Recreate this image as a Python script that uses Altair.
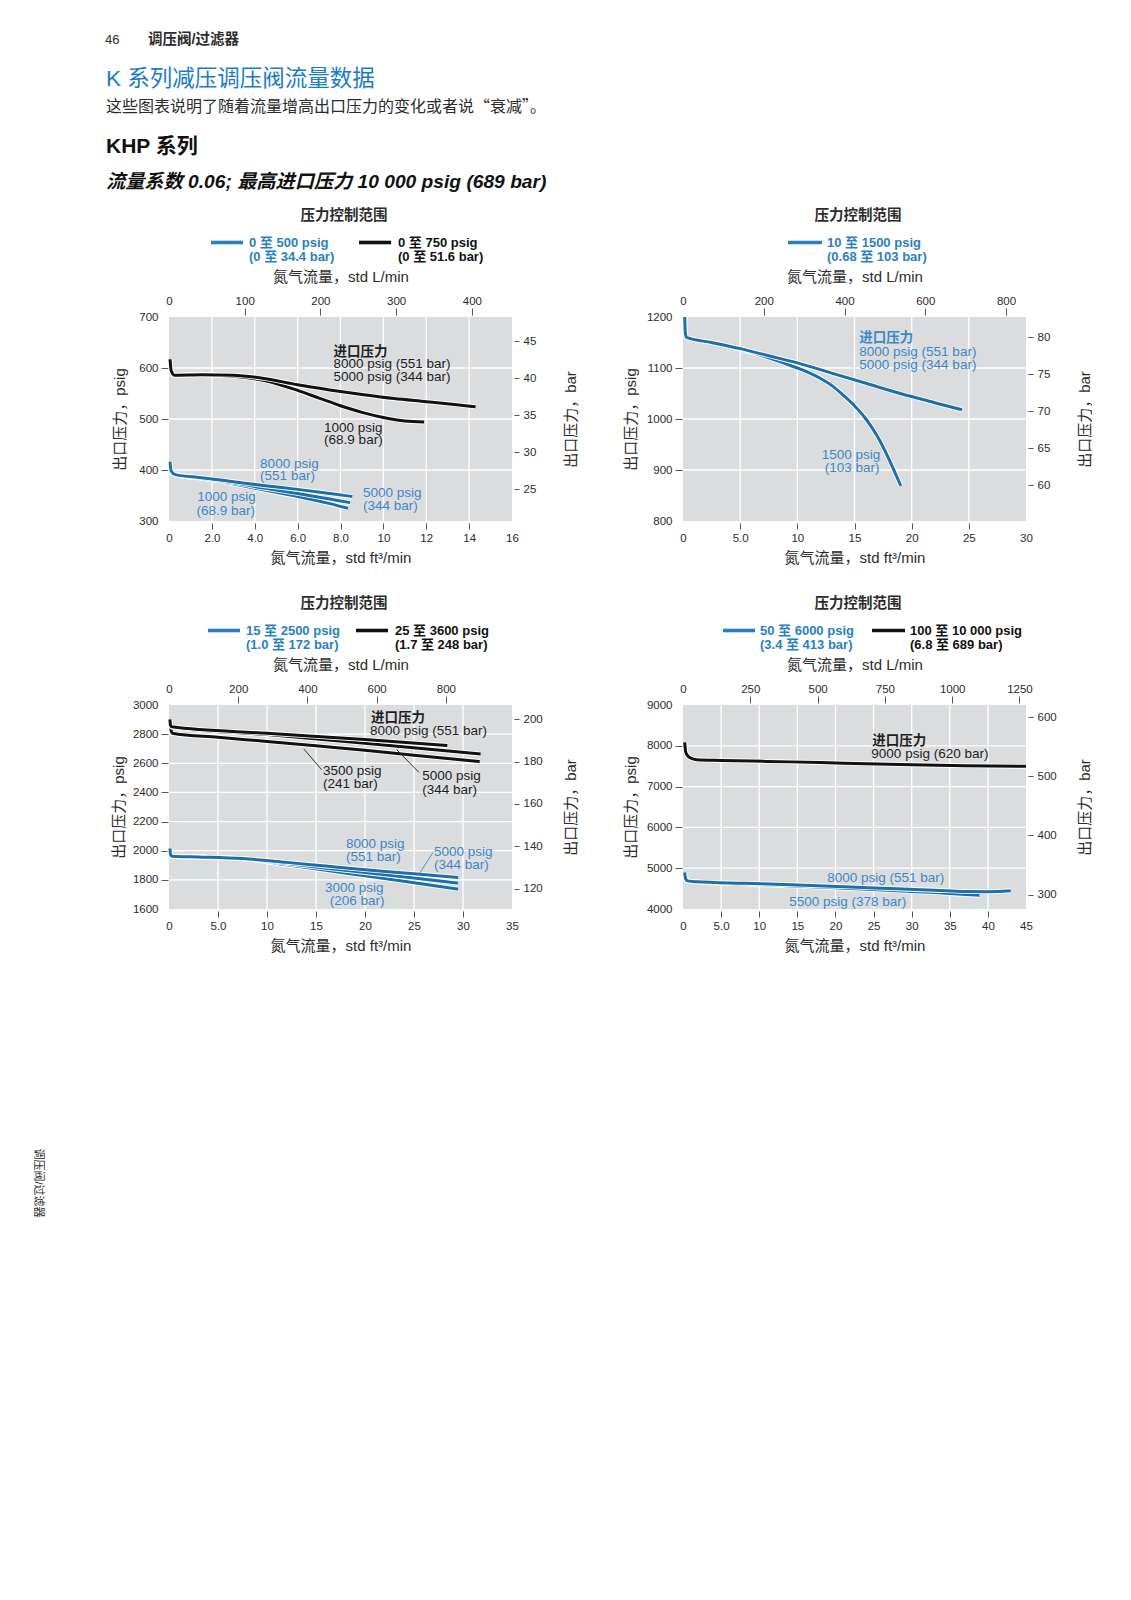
import altair as alt
import pandas as pd

FONT = "'Liberation Sans', 'Noto Sans CJK SC', 'DejaVu Sans', sans-serif"
CJK_FONT = "'Noto Sans CJK SC', sans-serif"
BLUE = "#1c6fa8"
BLUE_TXT = "#3b88c5"
BLUE_LEG = "#2a7fc0"
TITLE_BLUE = "#1b7cc2"
BLACK = "#111111"
BG = "#dbdcde"
TXT = "#2b2b2b"
W, H = 343, 204
LPM = 28.3168      # std L/min per std ft3/min
PSI_BAR = 14.5038  # psig per bar

# ---------------- Panel 1 : 0-500 / 0-750 psig ----------------
P1_BLK_A_X = [0.05, 0.1, 0.25, 1.5, 3.0, 4.5, 6.0, 7.5, 9.0, 10.5, 12.0, 13.2, 14.3]
P1_BLK_A_Y = [617, 595, 586, 587, 586, 579, 567, 557, 548, 540, 534, 529, 524]
P1_BLK_B_X = [0.05, 0.1, 0.25, 1.5, 3.0, 4.5, 6.0, 7.0, 8.0, 9.0, 10.0, 11.0, 11.9]
P1_BLK_B_Y = [617, 595, 586, 587, 584, 575, 556, 541, 526, 513, 503, 496, 494]
P1_BLU_A_X = [0.05, 0.1, 0.3, 1.5, 3.0, 4.5, 6.0, 7.5, 8.55]
P1_BLU_A_Y = [416, 398, 391, 385, 377, 369, 362, 354, 348]
P1_BLU_B_X = [0.05, 0.1, 0.3, 1.5, 3.0, 4.5, 6.0, 7.5, 8.45]
P1_BLU_B_Y = [416, 398, 391, 384, 375, 364, 354, 343, 336]
P1_BLU_C_X = [0.05, 0.1, 0.3, 1.5, 3.0, 4.5, 6.0, 7.5, 8.35]
P1_BLU_C_Y = [416, 398, 391, 384, 373, 360, 348, 334, 325]

# ---------------- Panel 2 : 10-1500 psig ----------------
P2_BLU_A_X = [0.15, 0.2, 0.3, 2.5, 5, 7.5, 10, 13, 16, 19, 22, 24.4]
P2_BLU_A_Y = [1200, 1170, 1160, 1150, 1138, 1124, 1110, 1090, 1070, 1050, 1032, 1018]
P2_BLU_B_X = [0.15, 0.2, 0.3, 2.5, 5, 7.5, 10, 11, 12, 13, 14, 15, 16, 17, 18, 19.05]
P2_BLU_B_Y = [1200, 1170, 1160, 1150, 1137, 1120, 1100, 1091, 1080, 1066, 1047, 1026, 1000, 966, 922, 869]

# ---------------- Panel 3 : 15-2500 / 25-3600 psig ----------------
P3_BLK_A_X = [0.1, 0.15, 0.3, 10, 20, 28.4]
P3_BLK_A_Y = [2900, 2862, 2850, 2806, 2763, 2722]
P3_BLK_B_X = [0.1, 0.15, 0.3, 10, 20, 31.8]
P3_BLK_B_Y = [2900, 2862, 2848, 2797, 2738, 2663]
P3_BLK_C_X = [0.1, 0.2, 0.35, 5, 10, 15, 20, 25, 31.7]
P3_BLK_C_Y = [2900, 2830, 2806, 2778, 2750, 2720, 2690, 2655, 2612]
P3_BLU_A_X = [0.1, 0.15, 0.3, 3, 7.5, 12, 16, 20, 25, 29.5]
P3_BLU_A_Y = [2014, 1975, 1962, 1957, 1946, 1920, 1895, 1870, 1842, 1816]
P3_BLU_B_X = [0.1, 0.15, 0.3, 3, 7.5, 12, 16, 20, 25, 29.5]
P3_BLU_B_Y = [2014, 1975, 1962, 1957, 1946, 1912, 1880, 1850, 1812, 1778]
P3_BLU_C_X = [0.1, 0.15, 0.3, 3, 7.5, 12, 16, 20, 25, 29.5]
P3_BLU_C_Y = [2014, 1975, 1962, 1957, 1946, 1903, 1865, 1828, 1780, 1737]

# ---------------- Panel 4 : 50-6000 / 100-10000 psig ----------------
P4_BLK_X = [0.22, 0.35, 0.6, 1.0, 1.8, 5, 11, 18, 24, 30, 37, 45]
P4_BLK_Y = [8081, 7850, 7760, 7700, 7660, 7640, 7618, 7590, 7561, 7535, 7512, 7496]
P4_BLU_A_X = [0.22, 0.35, 0.6, 1.8, 8, 15, 22, 28, 33, 37, 40, 43]
P4_BLU_A_Y = [4894, 4740, 4690, 4667, 4630, 4588, 4540, 4495, 4460, 4430, 4425, 4447]
P4_BLU_B_X = [0.22, 0.35, 0.6, 1.8, 8, 15, 22, 28, 33, 36, 38.9]
P4_BLU_B_Y = [4894, 4740, 4690, 4667, 4615, 4560, 4500, 4450, 4405, 4365, 4335]

PANELS = [
    dict(xmax=16, xt=[0, 2, 4, 6, 8, 10, 12, 14, 16], ymin=300, ymax=700,
         yt=[300, 400, 500, 600, 700], bt=[25, 30, 35, 40, 45], lt=[0, 100, 200, 300, 400],
         ytx=-49,
         lines=[("blue", P1_BLU_C_X, P1_BLU_C_Y), ("blue", P1_BLU_B_X, P1_BLU_B_Y),
                ("blue", P1_BLU_A_X, P1_BLU_A_Y), ("black", P1_BLK_B_X, P1_BLK_B_Y),
                ("black", P1_BLK_A_X, P1_BLK_A_Y)],
         notes=[("进口压力", 7.67, 631, "black", True, "left"),
                ("8000 psig (551 bar)", 7.67, 607, "black", False, "left"),
                ("5000 psig (344 bar)", 7.67, 582, "black", False, "left"),
                ("1000 psig", 8.6, 482, "black", False, "center"),
                ("(68.9 bar)", 8.6, 458, "black", False, "center"),
                ("8000 psig", 4.25, 412, "blue", False, "left"),
                ("(551 bar)", 4.25, 388, "blue", False, "left"),
                ("5000 psig", 9.05, 354, "blue", False, "left"),
                ("(344 bar)", 9.05, 329, "blue", False, "left"),
                ("1000 psig", 1.32, 347, "blue", False, "left"),
                ("(68.9 bar)", 1.28, 320, "blue", False, "left")],
         leaders=[],
         legend=[("blue", "0 至 500 psig", "(0 至 34.4 bar)", 42, 74, 80),
                 ("black", "0 至 750 psig", "(0 至 51.6 bar)", 190, 222, 229)]),
    dict(xmax=30, xt=[0, 5, 10, 15, 20, 25, 30], ymin=800, ymax=1200,
         yt=[800, 900, 1000, 1100, 1200], bt=[60, 65, 70, 75, 80], lt=[0, 200, 400, 600, 800],
         ytx=-52,
         lines=[("blue", P2_BLU_B_X, P2_BLU_B_Y), ("blue", P2_BLU_A_X, P2_BLU_A_Y)],
         notes=[("进口压力", 15.42, 1159, "blue", True, "left"),
                ("8000 psig (551 bar)", 15.42, 1132, "blue", False, "left"),
                ("5000 psig (344 bar)", 15.42, 1106, "blue", False, "left"),
                ("1500 psig", 14.7, 929, "blue", False, "center"),
                ("(103 bar)", 14.8, 903, "blue", False, "center")],
         leaders=[],
         legend=[("blue", "10 至 1500 psig", "(0.68 至 103 bar)", 105, 139, 144)]),
    dict(xmax=35, xt=[0, 5, 10, 15, 20, 25, 30, 35], ymin=1600, ymax=3000,
         yt=[1600, 1800, 2000, 2200, 2400, 2600, 2800, 3000], bt=[120, 140, 160, 180, 200],
         lt=[0, 200, 400, 600, 800], ytx=-50,
         lines=[("blue", P3_BLU_C_X, P3_BLU_C_Y), ("blue", P3_BLU_B_X, P3_BLU_B_Y),
                ("blue", P3_BLU_A_X, P3_BLU_A_Y), ("black", P3_BLK_C_X, P3_BLK_C_Y),
                ("black", P3_BLK_B_X, P3_BLK_B_Y), ("black", P3_BLK_A_X, P3_BLK_A_Y)],
         notes=[("进口压力", 20.61, 2913, "black", True, "left"),
                ("8000 psig (551 bar)", 20.5, 2822, "black", False, "left"),
                ("3500 psig", 15.72, 2545, "black", False, "left"),
                ("(241 bar)", 15.72, 2458, "black", False, "left"),
                ("5000 psig", 25.84, 2511, "black", False, "left"),
                ("(344 bar)", 25.84, 2420, "black", False, "left"),
                ("8000 psig", 18.05, 2044, "blue", False, "left"),
                ("(551 bar)", 18.05, 1957, "blue", False, "left"),
                ("5000 psig", 27.04, 1992, "blue", False, "left"),
                ("(344 bar)", 27.04, 1901, "blue", False, "left"),
                ("3000 psig", 18.9, 1741, "blue", False, "center"),
                ("(206 bar)", 19.2, 1655, "blue", False, "center")],
         leaders=[(13.77, 2697, 15.58, 2556, "black"), (23.24, 2693, 25.5, 2538, "black"),
                  (25.4, 1828, 26.93, 1987, "blue")],
         legend=[("blue", "15 至 2500 psig", "(1.0 至 172 bar)", 39, 71, 77),
                 ("black", "25 至 3600 psig", "(1.7 至 248 bar)", 187, 219, 226)]),
    dict(xmax=45, xt=[0, 5, 10, 15, 20, 25, 30, 35, 40, 45], ymin=4000, ymax=9000,
         yt=[4000, 5000, 6000, 7000, 8000, 9000], bt=[300, 400, 500, 600],
         lt=[0, 250, 500, 750, 1000, 1250], ytx=-52,
         lines=[("blue", P4_BLU_B_X, P4_BLU_B_Y), ("blue", P4_BLU_A_X, P4_BLU_A_Y),
                ("black", P4_BLK_X, P4_BLK_Y)],
         notes=[("进口压力", 24.84, 8122, "black", True, "left"),
                ("9000 psig (620 bar)", 24.71, 7797, "black", False, "left"),
                ("8000 psig (551 bar)", 18.93, 4748, "blue", False, "left"),
                ("5500 psig (378 bar)", 13.93, 4163, "blue", False, "left")],
         leaders=[],
         legend=[("blue", "50 至 6000 psig", "(3.4 至 413 bar)", 40, 72, 77),
                 ("black", "100 至 10 000 psig", "(6.8 至 689 bar)", 189, 222, 227)]),
]

LINE_COL = {"blue": BLUE, "black": BLACK}
NOTE_COL = {"blue": BLUE_TXT, "black": "#1e1e1e"}
LEG_COL = {"blue": BLUE_LEG, "black": BLACK}

ONE = alt.Data(values=[{"a": 1}])


def edge_cond(test):
    return {"condition": {"test": test, "value": 0}, "value": 1}


def ptext(txt, x, y, size=13, color=TXT, bold=False, align="left", italic=False, angle=0, font=FONT):
    kw = dict(text=txt, fontSize=size, color=color, align=align, baseline="middle",
              fontWeight="bold" if bold else "normal", font=font)
    if italic:
        kw["fontStyle"] = "italic"
    if angle:
        kw["angle"] = angle
    return alt.Chart(ONE).mark_text(**kw).encode(x=alt.value(x), y=alt.value(y))


def make_panel(p, extra=()):
    xs = alt.Scale(domain=[0, p["xmax"]], nice=False, zero=False)
    ys = alt.Scale(domain=[p["ymin"], p["ymax"]], nice=False, zero=False)
    xa = alt.Axis(orient="bottom", values=p["xt"],
                  labelExpr="datum.value == 0 ? '0' : (datum.value < 10 ? format(datum.value, '.1f') : format(datum.value, 'd'))",
                  title="氮气流量，std ft³/min", tickSize=6, offset=2, labelPadding=3,
                  tickOpacity=edge_cond(f"datum.value <= 0 || datum.value >= {p['xmax']}"),
                  titleX=W / 2, titleY=34, titleAlign="center", titleBaseline="middle")
    ya = alt.Axis(orient="left", values=p["yt"], format="d", title="出口压力，psig",
                  tickSize=7, offset=1, labelPadding=3,
                  tickOpacity=edge_cond(f"datum.value <= {p['ymin']} || datum.value >= {p['ymax']}"),
                  titleAngle=270, titleX=p["ytx"], titleY=H / 2, titleAlign="center",
                  titleBaseline="middle")
    X = lambda f: alt.X(f, scale=xs, axis=xa)
    Y = lambda f: alt.Y(f, scale=ys, axis=ya)
    layers = []
    # grid
    gx = pd.DataFrame({"v": [v for v in p["xt"] if 0 < v < p["xmax"]]})
    gy = pd.DataFrame({"v": [v for v in p["yt"] if p["ymin"] < v < p["ymax"]]})
    layers.append(alt.Chart(gx).mark_rule(color="white", strokeWidth=1.3).encode(x=X("v:Q")))
    layers.append(alt.Chart(gy).mark_rule(color="white", strokeWidth=1.3).encode(y=Y("v:Q")))
    # lines: white halo + colour
    for grp, lx, ly in p["lines"]:
        df = pd.DataFrame({"x": lx, "y": ly})
        layers.append(alt.Chart(df).mark_line(interpolate="monotone", color="white",
                                              strokeWidth=4.8, strokeCap="butt").encode(
            x=X("x:Q"), y=Y("y:Q")))
        layers.append(alt.Chart(df).mark_line(interpolate="monotone", color=LINE_COL[grp],
                                              strokeWidth=3, strokeCap="butt").encode(
            x=X("x:Q"), y=Y("y:Q")))
    # leaders
    for x1, y1, x2, y2, grp in p["leaders"]:
        df = pd.DataFrame({"x": [x1], "y": [y1], "x2": [x2], "y2": [y2]})
        layers.append(alt.Chart(df).mark_rule(color=NOTE_COL[grp], strokeWidth=0.9).encode(
            x=X("x:Q"), y=Y("y:Q"), x2="x2:Q", y2="y2:Q"))
    # annotations
    for t, nx, ny, grp, bold, align in p["notes"]:
        df = pd.DataFrame({"x": [nx], "y": [ny], "t": [t]})
        layers.append(alt.Chart(df).mark_text(
            fontSize=13.5, color=NOTE_COL[grp], fontWeight="bold" if bold else "normal",
            align=align, baseline="middle", font=FONT).encode(
            x=X("x:Q"), y=Y("y:Q"), text="t:N"))
    # header and legend
    layers.append(ptext("压力控制范围", 175, -101, size=14.5, color=TXT, bold=True, align="center"))
    for grp, l1, l2, s0, s1, tx in p["legend"]:
        layers.append(alt.Chart(ONE).mark_rule(color=LEG_COL[grp], strokeWidth=3.6).encode(
            x=alt.value(s0), x2=alt.value(s1), y=alt.value(-74.5)))
        layers.append(ptext(l1, tx, -74, size=13, color=LEG_COL[grp], bold=True))
        layers.append(ptext(l2, tx, -60.5, size=13, color=LEG_COL[grp], bold=True))
    layers.extend(extra)
    inner = alt.layer(*layers)

    # secondary axes: std L/min on top, bar on the right
    ax_df = pd.DataFrame({"l": [0, p["xmax"] * LPM],
                          "b": [p["ymin"] / PSI_BAR, p["ymax"] / PSI_BAR]})
    ta = alt.Axis(orient="top", values=p["lt"], format="d", title="氮气流量，std L/min",
                  tickSize=7, offset=2, labelPadding=2,
                  tickOpacity=edge_cond("datum.value <= 0"),
                  titleX=W / 2, titleY=-39, titleAlign="center", titleBaseline="middle")
    ra = alt.Axis(orient="right", values=p["bt"], format="d", title="出口压力，bar",
                  tickSize=5, offset=2, labelPadding=4, titleAngle=270, titleX=56,
                  titleY=H / 2, titleAlign="center", titleBaseline="middle")
    axis_layer = alt.Chart(ax_df).mark_point(opacity=0).encode(
        x=alt.X("l:Q", scale=alt.Scale(domain=[0, p["xmax"] * LPM], nice=False, zero=False), axis=ta),
        y=alt.Y("b:Q", scale=alt.Scale(domain=[p["ymin"] / PSI_BAR, p["ymax"] / PSI_BAR],
                                       nice=False, zero=False), axis=ra))
    return alt.layer(inner, axis_layer).resolve_scale(x="independent", y="independent").properties(
        width=W, height=H)


# page header placed relative to panel 1 plot origin (169, 317)
header = [
    alt.Chart(ONE).mark_rect(color="white").encode(
        x=alt.value(-161), x2=alt.value(-160), y=alt.value(-309), y2=alt.value(-308)),
    ptext("46", -64, -277, size=13, color=TXT),
    ptext("调压阀/过滤器", -21, -277, size=14.5, color=TXT, bold=True),
    ptext("K 系列减压调压阀流量数据", -63, -238, size=22.5, color=TITLE_BLUE),
    ptext("这些图表说明了随着流量增高出口压力的变化或者说“衰减”。", -63, -210, size=16,
          color=TXT, font=CJK_FONT),
    ptext("KHP 系列", -63, -170, size=21, color=BLACK, bold=True),
    ptext("流量系数 0.06; 最高进口压力  10 000 psig (689 bar)", -63, -135, size=19.2,
          color=BLACK, bold=True, italic=True),
]
side = [ptext("调压阀/过滤器", -131, 478, size=11, color=TXT, angle=90, align="center")]

p1 = make_panel(PANELS[0], header)
p2 = make_panel(PANELS[1])
p3 = make_panel(PANELS[2], side)
p4 = make_panel(PANELS[3])

chart = alt.concat(p1, p2, p3, p4, columns=2, spacing={"row": 184, "column": 171},
                   bounds="flush").properties(padding=0, background="white").configure_view(
    fill=BG, stroke=None).configure_axis(
    labelFont=FONT, titleFont=FONT, labelFontSize=11.5, titleFontSize=15, labelColor=TXT,
    titleColor=TXT, titleFontWeight="normal", tickColor="#555555", tickWidth=1,
    labelFlush=False, labelOverlap=False, domain=False, grid=False)

chart.save("out.html", embed_options={"renderer": "svg", "actions": False})
